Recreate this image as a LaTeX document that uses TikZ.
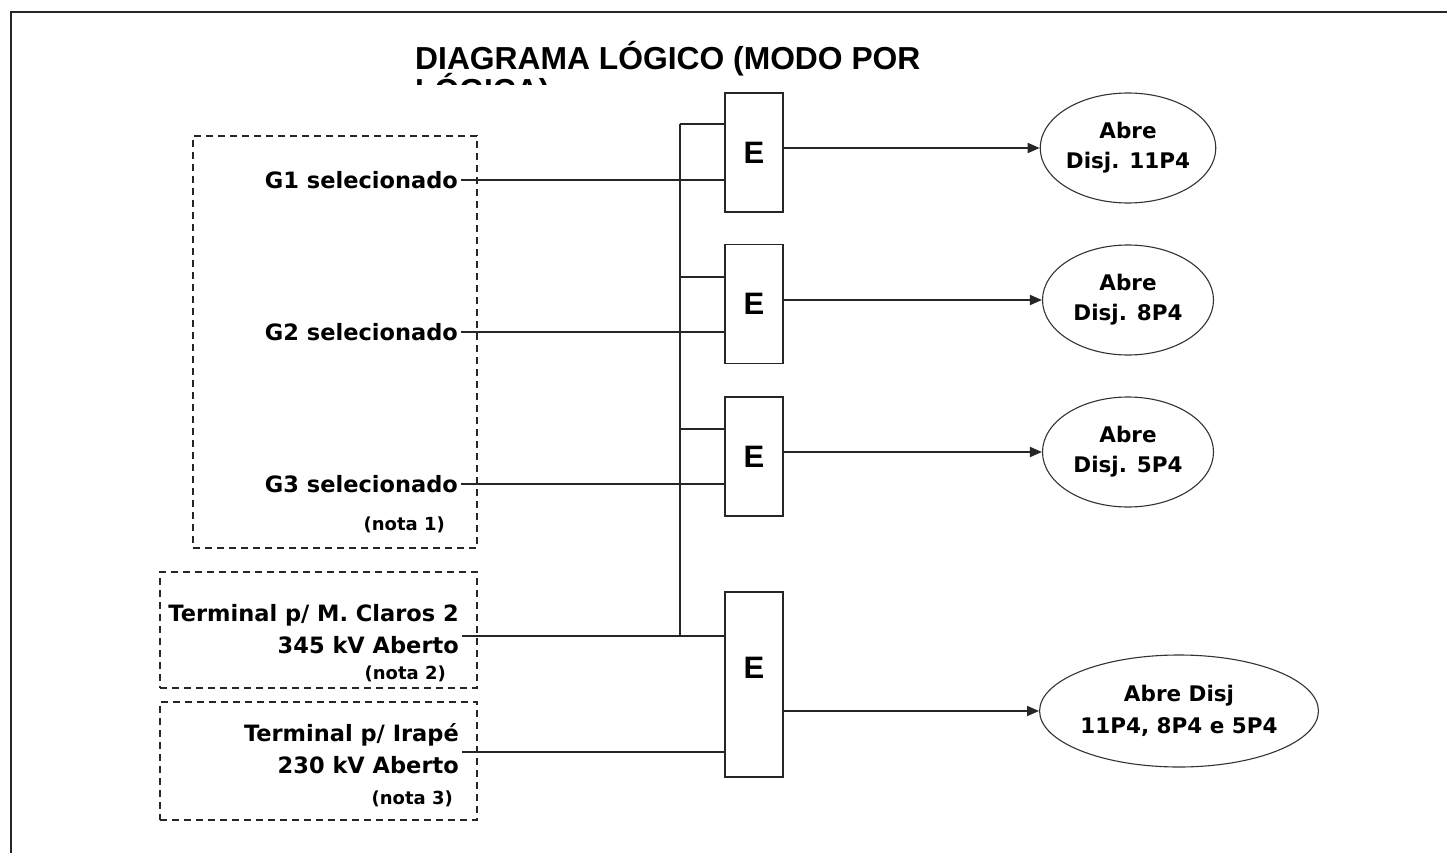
\documentclass[tikz,border=0pt]{standalone}
\usepackage{fontspec}
\setmainfont{DejaVu Sans}
\newfontfamily\titlefont{Liberation Sans Bold}
\usetikzlibrary{arrows.meta,shapes.geometric}
\tikzset{
  ln/.style={line width=1.7pt, draw=black!85},
  gate/.style={draw=black!85, line width=1.8pt, fill=white, minimum width=58pt, minimum height=119pt, inner sep=0pt, font=\titlefont\fontsize{31}{32}\selectfont},
  efont/.style={font=\titlefont\fontsize{31}{32}\selectfont, inner sep=0pt},
  outell/.style={ellipse, draw=black!80, line width=1.1pt, minimum width=171pt, minimum height=110pt, inner sep=0pt, align=center, font=\bfseries\fontsize{21.5}{30}\selectfont},
  lab/.style={anchor=east, inner sep=3pt, align=right, font=\bfseries\fontsize{22.5}{32}\selectfont},
  nota/.style={anchor=east, inner sep=0pt, font=\bfseries\fontsize{18}{22}\selectfont},
  dashbox/.style={draw=black!85, line width=1.5pt, dash pattern=on 7pt off 5pt, inner sep=0pt},
  arr/.style={ln, -{Triangle[length=12pt,width=10pt]}},
  ttl/.style={anchor=base west, inner sep=0pt, font=\titlefont\fontsize{31.8}{32}\selectfont}
}
\begin{document}
\begin{tikzpicture}[x=1pt,y=-1pt]
\useasboundingbox (0,0) rectangle (1447,853);
\fill[white] (0,0) rectangle (1447,853);
\draw[line width=2.2pt, draw=black!85] (11,853) -- (11,12) -- (1447,12);

% title (second line cut off as in the original)
\begin{scope}
  \clip (0,0) rectangle (1447,85);
  \node[ttl] (title1) at (415,70) {DIAGRAMA LÓGICO (MODO POR};
  \node[ttl] (title2) at (415,102) {LÓGICA)};
\end{scope}

% dashed input groups
\node[dashbox, minimum width=284pt, minimum height=412pt] (box1) at (335,342) {};
\node[dashbox, minimum width=317pt, minimum height=116pt] (box2) at (318.5,630) {};
\node[dashbox, minimum width=317pt, minimum height=118pt] (box3) at (318.5,761) {};

% input labels
\node[lab] (l1) at (461,180) {G1 selecionado};
\node[lab] (l2) at (461,332) {G2 selecionado};
\node[lab] (l3) at (461,484) {G3 selecionado};
\node[nota] (n1) at (445,525) {(nota 1)};
\node[lab] (t2) at (462,629) {Terminal p/ M. Claros 2\\345 kV Aberto};
\node[nota] (n2) at (446,674) {(nota 2)};
\node[lab] (t3) at (462,748.5) {Terminal p/ Irapé\\230 kV Aberto};
\node[nota] (n3) at (453,799) {(nota 3)};

% gates
\node[gate] (g1) at (754,152.5) {E};
\node[gate] (g2) at (754,304) {E};
\node[gate] (g3) at (754,456.5) {E};
\node[gate, minimum height=185pt, label={[efont,yshift=16.5pt]center:E}] (g4) at (754,684.5) {};

% outputs
\node[outell] (e1) at (1128,148) {Abre\\Disj. 11P4};
\node[outell] (e2) at (1128,300) {Abre\\Disj. 8P4};
\node[outell] (e3) at (1128,452) {Abre\\Disj. 5P4};
\node[outell, minimum width=274pt, minimum height=112pt, font=\bfseries\fontsize{21.5}{32}\selectfont] (e4) at (1179,711) {Abre Disj\\11P4, 8P4 e 5P4};

% bus
\coordinate (b1) at (680,124);
\coordinate (b2) at (680,277);
\coordinate (b3) at (680,429);
\coordinate (b4) at (680,636);
\draw[ln] (b1) -- (b4);
\draw[ln] (b1) -- (g1.west |- b1);
\draw[ln] (b2) -- (g2.west |- b2);
\draw[ln] (b3) -- (g3.west |- b3);

% input connectors
\draw[ln] (l1.east) -- (g1.west |- l1.east);
\draw[ln] (l2.east) -- (g2.west |- l2.east);
\draw[ln] (l3.east) -- (g3.west |- l3.east);
\draw[ln] (t2.east |- b4) -- (g4.west |- b4);
\coordinate (i4) at ([yshift=-67.5pt]g4.west);
\draw[ln] (t3.east |- i4) -- (i4);

% output connectors
\draw[arr] (g1.east |- e1.west) -- (e1.west);
\draw[arr] (g2.east |- e2.west) -- (e2.west);
\draw[arr] (g3.east |- e3.west) -- (e3.west);
\draw[arr] (g4.east |- e4.west) -- (e4.west);
\end{tikzpicture}
\end{document}
